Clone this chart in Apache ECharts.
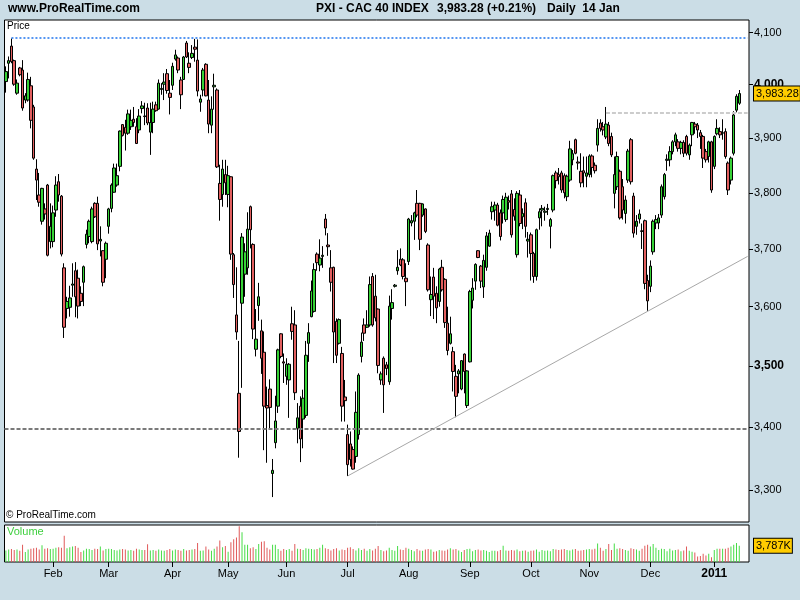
<!DOCTYPE html>
<html><head><meta charset="utf-8">
<script src="https://cdn.jsdelivr.net/npm/echarts@6/dist/echarts.min.js"></script>
<style>html,body{margin:0;padding:0;background:#cbdde6}#c{width:800px;height:600px}</style>
</head><body><div id="c"></div>
<script>
const opens = [
4006,4041,4074,4046,3984,4032,4028,3971,3971,3998,
3958,3843,3796,3749,3771,3814,3713,3713,3769,3820,
3794,3667,3597,3599,3637,3662,3649,3623,3642,3708,
3722,3713,3781,3781,3714,3697,3682,3740,3772,3801,
3814,3848,3925,3920,3909,3921,3935,3921,3915,3955,
3941,3956,3911,3929,3962,3954,3991,4001,4021,3984,
3999,4049,4051,4009,4010,4080,4041,4052,4072,4047,
3967,3990,4039,3971,3924,3996,3990,3817,3797,3833,
3797,3829,3690,3586,3455,3606,3656,3667,3775,3708,
3528,3602,3559,3523,3435,3462,3326,3375,3434,3554,
3507,3483,3477,3571,3569,3398,3434,3413,3419,3538,
3583,3592,3691,3672,3687,3753,3707,3667,3668,3575,
3538,3521,3449,3388,3373,3364,3353,3388,3516,3569,
3565,3569,3652,3618,3596,3477,3513,3502,3474,3597,
3635,3662,3682,3681,3649,3678,3746,3749,3781,3781,
3760,3771,3707,3612,3651,3623,3609,3668,3647,3572,
3538,3524,3483,3487,3462,3520,3435,3507,3611,3644,
3697,3670,3634,3668,3705,3766,3769,3778,3764,3764,
3752,3786,3798,3770,3690,3796,3757,3782,3714,3725,
3692,3652,3755,3769,3765,3770,3740,3769,3836,3833,
3836,3831,3793,3823,3860,3897,3856,3839,3840,3830,
3833,3867,3850,3887,3928,3921,3902,3924,3903,3799,
3811,3839,3811,3763,3823,3897,3794,3740,3753,3732,
3750,3645,3635,3695,3746,3746,3760,3793,3859,3860,
3875,3893,3893,3881,3892,3903,3869,3906,3926,3924,
3910,3903,3875,3866,3893,3848,3908,3912,3909,3912,
3854,3823,3872,3952,3965];
const highs = [
4035,4054,4089,4048,4010,4034,4047,3984,4023,4015,
3962,3861,3836,3809,3781,3816,3781,3777,3830,3834,
3796,3675,3617,3636,3675,3677,3664,3635,3671,3734,
3752,3775,3783,3793,3740,3698,3713,3773,3817,3853,
3853,3914,3926,3934,3953,3953,3958,3937,3954,3969,
3966,3965,3966,3968,3968,4010,4003,4022,4030,4009,
4042,4067,4054,4015,4055,4084,4062,4076,4088,4087,
3981,4032,4041,4009,3978,4021,3993,3851,3860,3860,
3849,3830,3693,3668,3542,3728,3710,3765,3777,3710,
3596,3641,3578,3558,3466,3478,3349,3451,3529,3555,
3521,3513,3505,3600,3594,3439,3450,3461,3542,3572,
3645,3675,3694,3717,3705,3762,3728,3698,3669,3580,
3580,3532,3477,3404,3393,3369,3458,3488,3556,3580,
3594,3652,3658,3655,3597,3491,3516,3507,3619,3630,
3639,3698,3701,3684,3675,3755,3760,3766,3805,3782,
3781,3772,3710,3652,3667,3635,3667,3681,3649,3600,
3583,3532,3502,3495,3510,3521,3493,3629,3649,3675,
3698,3672,3690,3730,3734,3784,3784,3782,3770,3795,
3800,3795,3805,3790,3803,3805,3772,3790,3730,3729,
3695,3736,3772,3778,3775,3780,3755,3833,3840,3845,
3840,3835,3833,3895,3878,3899,3866,3872,3866,3866,
3870,3870,3855,3935,3935,3930,3958,3930,3910,3866,
3875,3842,3825,3795,3880,3900,3800,3760,3770,3745,
3752,3655,3680,3752,3760,3762,3815,3836,3870,3885,
3896,3910,3898,3895,3896,3906,3890,3930,3930,3928,
3915,3906,3880,3895,3895,3905,3935,3920,3935,3918,
3857,3866,3950,3982,3990];
const lows = [
3985,4012,4041,3998,3981,4016,3951,3965,3968,3918,
3860,3787,3775,3743,3752,3687,3701,3703,3757,3784,
3687,3547,3580,3583,3617,3582,3580,3601,3601,3701,
3710,3710,3755,3698,3687,3635,3649,3727,3765,3800,
3811,3839,3903,3877,3906,3915,3921,3889,3909,3946,
3924,3924,3869,3909,3949,3953,3981,3971,3983,3944,
3990,4046,4022,3954,4009,4051,4022,4049,4044,3978,
3949,3978,3978,3909,3909,3953,3845,3750,3775,3796,
3774,3681,3615,3544,3351,3464,3617,3655,3701,3545,
3516,3576,3487,3363,3343,3398,3289,3366,3423,3513,
3472,3469,3415,3544,3444,3374,3344,3366,3415,3507,
3582,3590,3662,3661,3667,3724,3688,3626,3505,3505,
3536,3409,3409,3322,3337,3332,3343,3380,3506,3542,
3564,3566,3566,3575,3488,3469,3423,3485,3469,3578,
3633,3655,3670,3647,3601,3672,3740,3716,3756,3698,
3757,3728,3626,3584,3579,3572,3600,3626,3564,3518,
3536,3458,3416,3455,3460,3455,3431,3506,3597,3629,
3684,3632,3615,3662,3704,3752,3750,3740,3715,3745,
3748,3770,3720,3750,3685,3740,3735,3720,3685,3645,
3641,3645,3734,3740,3750,3760,3701,3765,3808,3815,
3800,3790,3785,3820,3850,3870,3842,3810,3810,3810,
3828,3828,3835,3875,3912,3905,3898,3885,3865,3772,
3805,3752,3752,3745,3818,3815,3720,3725,3745,3700,
3630,3593,3625,3690,3735,3735,3755,3788,3840,3848,
3870,3885,3875,3870,3865,3868,3860,3885,3908,3900,
3880,3845,3855,3855,3800,3843,3905,3900,3897,3862,
3796,3815,3868,3948,3962];
const closes = [
4025,4046,4044,4001,4003,4019,3956,3979,4010,3933,
3863,3823,3783,3808,3762,3689,3740,3764,3814,3796,
3691,3565,3609,3615,3639,3617,3601,3609,3669,3726,
3749,3771,3757,3709,3717,3642,3710,3771,3814,3845,
3831,3913,3905,3909,3945,3933,3929,3890,3941,3960,
3940,3928,3929,3954,3951,4003,3993,4005,3989,3976,
4035,4057,4028,3981,4053,4053,4033,4060,4068,3988,
3973,4028,3979,3926,3954,3999,3847,3788,3843,3818,
3831,3691,3638,3557,3393,3721,3695,3735,3734,3562,
3545,3617,3513,3434,3431,3432,3331,3410,3527,3516,
3505,3503,3503,3558,3456,3415,3381,3447,3518,3556,
3627,3664,3676,3684,3689,3737,3704,3642,3557,3518,
3578,3434,3443,3340,3348,3333,3424,3485,3540,3555,
3569,3638,3569,3581,3501,3487,3469,3496,3601,3607,
3637,3668,3672,3652,3643,3753,3750,3764,3760,3717,
3780,3731,3629,3621,3618,3598,3665,3629,3573,3526,
3554,3491,3450,3492,3509,3491,3492,3626,3632,3673,
3685,3644,3680,3723,3728,3775,3778,3742,3722,3788,
3792,3783,3725,3758,3799,3745,3763,3740,3717,3692,
3652,3734,3766,3772,3767,3772,3752,3831,3822,3829,
3805,3800,3830,3880,3871,3872,3854,3818,3836,3836,
3867,3846,3840,3918,3918,3915,3926,3890,3869,3833,
3866,3755,3769,3787,3876,3820,3728,3749,3762,3731,
3640,3610,3670,3749,3752,3755,3811,3833,3861,3875,
3893,3906,3881,3892,3872,3872,3887,3929,3921,3915,
3903,3863,3860,3893,3805,3903,3918,3906,3910,3866,
3805,3863,3943,3978,3983.28];
const volumesK = [
2700,2900,3000,2800,2900,2600,4000,2300,2900,3100,
3200,3300,2900,3900,3100,3200,3000,3100,3300,3400,
3300,6100,3200,3400,3600,3700,3300,2300,2700,3100,
3000,2800,3100,3000,3600,2700,3000,3100,3000,2800,
2700,2900,3000,2900,2700,2800,2600,3100,2900,2800,
2800,4100,2700,2800,2600,2900,2700,2600,2800,3000,
2700,2900,2800,2600,3000,2700,2800,2900,3000,4400,
2600,2700,3600,2900,2600,3100,3600,5000,3400,3700,
2400,4600,5300,5700,8300,6900,4000,4000,3200,3400,
3000,4200,4700,4800,3300,2900,4000,4000,3000,2600,
3000,2800,3000,2600,4200,3100,3000,2800,3200,3100,
3000,2900,3000,3300,4000,3200,3000,2700,3000,3200,
2700,2900,2800,3300,3400,3000,2700,3200,2800,3100,
2600,3000,2700,3100,3700,2800,2500,2700,3300,2800,
2600,3700,2900,2800,3300,3100,2800,2500,3000,2700,
2600,2900,3000,2900,2400,2500,2800,2700,2600,2900,
3200,2900,3000,2700,2300,2800,3000,3100,2500,2800,
2900,2700,2800,2600,2300,2600,2600,2500,2800,3800,
2700,2600,2800,2700,2900,2500,2600,2700,2400,2600,
2700,2900,2400,2800,2600,2700,2500,3000,2900,2800,
2900,3000,2800,2700,2900,3000,2600,2700,2800,2900,
3000,2900,3100,4300,3300,2600,3000,4200,2800,4300,
3100,3200,3000,2800,2600,3200,3000,2900,2600,3100,
3800,4000,3600,4200,3300,2800,3100,3000,2500,3100,
2700,2800,2900,2500,2700,3600,2600,2400,2200,1300,
1400,1900,1500,1900,1100,2800,3100,3100,3100,3100,
3300,3600,4000,4400,3787];
const firstDay = '2010-01-07';
const holidays = ['2010-04-02','2010-04-05'];
const monthNames = ['2011','Jan','Feb','Mar','Apr','May','Jun','Jul','Aug','Sep','Oct','Nov','Dec'];
const priceTicks = [3300,3400,3500,3600,3700,3800,3900,4000,4100];
const lastPrice = 3983.28;
const lastVolumeK = 3787;
const yearHighLevel = 4091;
const yearHighFrom = 2;
const supportLevel = 3398;
const novHighLevel = 3947;
const novHighFrom = 216;
const trendFrom = [123, 3322];
const trendTo = [267, 3687];
const emptySlots = 3;

const dates = [];
{
  const d = new Date(firstDay + 'T00:00:00Z');
  while (dates.length < opens.length) {
    const wd = d.getUTCDay();
    const s = d.toISOString().slice(0, 10);
    if (wd !== 0 && wd !== 6 && holidays.indexOf(s) < 0) dates.push(s);
    d.setUTCDate(d.getUTCDate() + 1);
  }
}
const cats = dates.concat(new Array(emptySlots).fill(''));
function isMonthStart(i) {
  return i > 0 && i < dates.length && dates[i].slice(5, 7) !== dates[i - 1].slice(5, 7);
}
function fmtNum(v, dec) {
  return v.toLocaleString('en-US', {minimumFractionDigits: dec || 0, maximumFractionDigits: dec || 0});
}
const candleData = dates.map((_, i) => [opens[i], closes[i], lows[i], highs[i]]);
const GREEN = '#36d236', RED = '#e25f5f';
const volData = dates.map((_, i) => ({
  value: volumesK[i],
  itemStyle: {color: closes[i] >= opens[i] ? '#46dc46' : '#e05a5a'}
}));
const FONT = '"Liberation Sans", Arial, sans-serif';
const HIDDEN_LINE = {color: 'rgba(0,0,0,0)', width: 0};
const BOX_LABEL = {show: true, position: 'end', distance: 5,
  backgroundColor: '#ffcc00', borderColor: '#000', borderWidth: 1, padding: [1, 1, 0, 2],
  color: '#000', fontSize: 11, lineHeight: 13, fontFamily: FONT};

const chart = echarts.init(document.getElementById('c'), null, {renderer: 'canvas'});
chart.setOption({
  animation: false,
  backgroundColor: '#cbdde6',
  textStyle: {fontFamily: FONT},
  grid: [
    {left: 4.5, top: 20, width: 744.5, height: 502, show: true, backgroundColor: '#fff', borderColor: '#000', borderWidth: 1},
    {left: 4.5, top: 525, width: 744.5, height: 37, show: true, backgroundColor: '#fff', borderColor: '#000', borderWidth: 1}
  ],
  xAxis: [
    {type: 'category', gridIndex: 0, data: cats, boundaryGap: true,
     axisLine: {show: false}, axisTick: {show: false}, axisLabel: {show: false}, splitLine: {show: false}},
    {type: 'category', gridIndex: 1, data: cats, boundaryGap: true,
     axisLine: {show: false},
     axisTick: {show: true, alignWithLabel: true, interval: (i) => isMonthStart(i), length: 5, lineStyle: {color: '#000', width: 1}},
     axisLabel: {show: true, interval: (i) => isMonthStart(i), margin: 6, color: '#000', fontSize: 11, fontFamily: FONT,
       formatter: (v) => {
         if (!v) return '';
         const m = +v.slice(5, 7), y = v.slice(0, 4);
         if (m === 1) return '{b|' + y + '}';
         return monthNames[m];
       },
       rich: {b: {fontWeight: 'bold', fontSize: 12, color: '#000', fontFamily: FONT}}},
     splitLine: {show: false}}
  ],
  yAxis: [
    {type: 'log', gridIndex: 0, position: 'right', min: 3250.3, max: 4124.8,
     axisLine: {show: false}, splitLine: {show: false},
     axisTick: {show: true, customValues: priceTicks, length: 4, lineStyle: {color: '#000'}},
     axisLabel: {show: true, customValues: priceTicks, margin: 5, color: '#000', fontSize: 11, fontFamily: FONT,
       formatter: (v) => (Math.round(v) % 500 === 0 ? '{b|' + fmtNum(Math.round(v)) + '}' : fmtNum(Math.round(v))),
       rich: {b: {fontWeight: 'bold', fontSize: 12, color: '#000', fontFamily: FONT}}}},
    {type: 'value', gridIndex: 1, position: 'right', min: 0, max: 8600, show: false}
  ],
  series: [
    {type: 'candlestick', xAxisIndex: 0, yAxisIndex: 0, data: candleData, barWidth: 3,
     itemStyle: {color: GREEN, color0: RED, borderColor: '#000', borderColor0: '#000', borderWidth: 1},
     markLine: {
       silent: true, symbol: 'none', animation: false, label: {show: false},
       data: [
         [{coord: [yearHighFrom, yearHighLevel], lineStyle: {color: '#5596f2', width: 2, type: [2, 2]}},
          {coord: [cats.length - 1, yearHighLevel]}],
         {yAxis: supportLevel, lineStyle: {color: '#7a7a7a', width: 2, type: [4, 2]}},
         [{coord: [novHighFrom, novHighLevel], lineStyle: {color: '#cccccc', width: 2, type: [4, 2]}},
          {coord: [cats.length - 1, novHighLevel]}],
         [{coord: trendFrom, lineStyle: {color: '#a8a8a8', width: 1, type: 'solid'}},
          {coord: trendTo}]
       ]
     }},
    {type: 'line', xAxisIndex: 0, yAxisIndex: 0, data: [], silent: true,
     markLine: {
       silent: true, symbol: 'none', animation: false,
       data: [{yAxis: lastPrice, lineStyle: HIDDEN_LINE,
         label: Object.assign({}, BOX_LABEL, {formatter: () => fmtNum(lastPrice, 2)})}]
     }},
    {type: 'bar', xAxisIndex: 1, yAxisIndex: 1, data: volData, barWidth: 1,
     markLine: {
       silent: true, symbol: 'none', animation: false,
       data: [{yAxis: lastVolumeK, lineStyle: HIDDEN_LINE,
         label: Object.assign({}, BOX_LABEL, {formatter: () => fmtNum(lastVolumeK) + 'K'})}]
     }}
  ],
  graphic: [
    {type: 'text', left: 8, top: 3, style: {text: 'www.ProRealTime.com', font: 'bold 12px ' + FONT, fill: '#000'}},
    {type: 'text', left: 316, top: 3, style: {text: 'PXI - CAC 40 INDEX', font: 'bold 12px ' + FONT, fill: '#000'}},
    {type: 'text', left: 437, top: 3, style: {text: fmtNum(lastPrice, 2) + ' (+0.21%)', font: 'bold 12px ' + FONT, fill: '#000'}},
    {type: 'text', left: 547, top: 3, style: {text: 'Daily  14 Jan', font: 'bold 12px ' + FONT, fill: '#000'}},
    {type: 'text', left: 7, top: 21, style: {text: 'Price', font: '10px ' + FONT, fill: '#000'}},
    {type: 'text', left: 6, top: 510, style: {text: '\u00a9 ProRealTime.com', font: '10px ' + FONT, fill: '#000'}},
    {type: 'text', left: 7, top: 526, style: {text: 'Volume', font: '11px ' + FONT, fill: '#3fcf3f'}}
  ]
});
</script>
</body></html>
